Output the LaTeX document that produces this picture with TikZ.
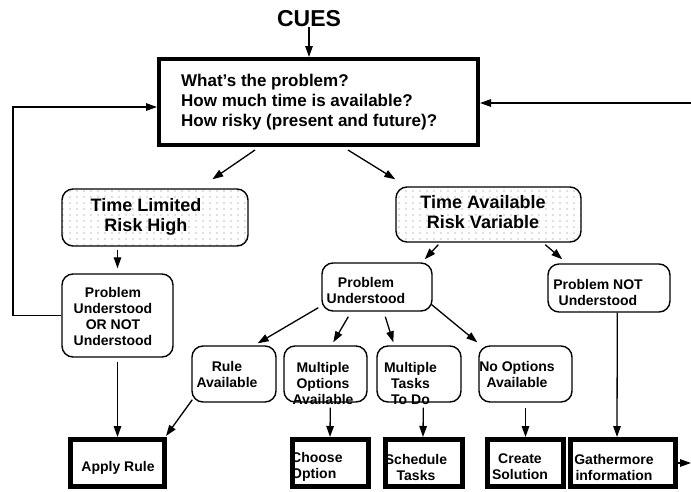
\documentclass[tikz,border=0pt]{standalone}
\usepackage{fontspec}
\setmainfont{Liberation Sans}
\usetikzlibrary{arrows.meta,calc,patterns.meta}

% sparse grey dot fill for the two situation boxes
\tikzdeclarepattern{
  name=sparsedots,
  type=uncolored,
  bottom left={(-1pt,-1pt)},
  top right={(6pt,5pt)},
  tile size={(7pt,6pt)},
  code={\fill (0pt,0pt) circle (0.6pt);}
}

\begin{document}
\begin{tikzpicture}[x=1pt,y=-1pt,
  txt/.style={font=\bfseries\fontsize{14}{16}\selectfont, inner sep=0pt, align=center},
  arr/.style={-{Triangle[length=11pt,width=7.5pt]}, line width=1.3pt},
  roundbox/.style={draw, line width=1.4pt, rounded corners=11pt, inner sep=0pt},
  dotbox/.style={roundbox, pattern=sparsedots, pattern color=black!55},
  heavybox/.style={draw, line width=5pt, inner sep=0pt},
]
\useasboundingbox (0,0) rectangle (691,491);

% heading and main question box
\node[txt, font=\bfseries\fontsize{23}{26}\selectfont] (cues) at (309,19) {CUES};
\node[heavybox, line width=4pt, minimum width=319pt, minimum height=86pt] (main) at (318.5,102) {};
\node[txt, anchor=west, align=left, font=\bfseries\fontsize{17}{20}\selectfont] (qtext) at (181,102)
  {What's the problem?\\How much time is available?\\How risky (present and future)?};

% situation boxes
\node[dotbox, minimum width=186pt, minimum height=57pt] (tl) at (155,217.5) {};
\node[txt, font=\bfseries\fontsize{18}{20}\selectfont] (tltext) at (146,217) {Time Limited\\Risk High};
\node[dotbox, minimum width=185pt, minimum height=55pt] (ta) at (488.5,214.5) {};
\node[txt, font=\bfseries\fontsize{18}{20}\selectfont] (tatext) at (483,212) {Time Available\\Risk Variable};

% understanding boxes
\node[roundbox, minimum width=111pt, minimum height=83pt] (puor) at (117.5,315.5) {};
\node[txt, font=\bfseries\fontsize{14}{15.7}\selectfont] (puortext) at (113,316.5) {Problem\\Understood\\OR NOT\\Understood};
\node[roundbox, minimum width=110pt, minimum height=48pt] (pu) at (377,287) {};
\node[txt] (putext) at (366,290) {Problem\\Understood};
\node[roundbox, minimum width=122pt, minimum height=48pt] (pnu) at (609,288) {};
\node[txt] (pnutext) at (598,292) {Problem NOT\\Understood};

% option boxes
\node[roundbox, minimum width=84pt, minimum height=56pt] (ra) at (234,374) {};
\node[txt] (ratext) at (227,374.5) {Rule\\Available};
\node[roundbox, minimum width=83pt, minimum height=56pt] (moa) at (325.5,374) {};
\node[txt] (moatext) at (323,383) {Multiple\\Options\\Available};
\node[roundbox, minimum width=84pt, minimum height=56pt] (mttd) at (419,374) {};
\node[txt] (mttdtext) at (410.5,383) {Multiple\\Tasks\\To Do};
\node[roundbox, minimum width=93pt, minimum height=56pt] (noa) at (525.5,374) {};
\node[txt] (noatext) at (517,374.5) {No Options\\Available};

% action boxes
\node[heavybox, minimum width=94pt, minimum height=47pt] (apply) at (117.5,463) {};
\node[txt] (applytext) at (118,468) {Apply Rule};
\node[heavybox, minimum width=76pt, minimum height=47pt] (choose) at (330.5,463) {};
\node[txt, anchor=west, align=left] (choosetext) at (291,467) {Choose\\Option};
\node[heavybox, minimum width=77pt, minimum height=47pt] (sched) at (424,463) {};
\node[txt] (schedtext) at (416,467) {Schedule\\Tasks};
\node[heavybox, minimum width=76pt, minimum height=47pt] (create) at (525.5,463) {};
\node[txt] (createtext) at (520,467) {Create\\Solution};
\node[heavybox, minimum width=105pt, minimum height=47pt] (gather) at (623,463) {};
\node[txt] (gathertext) at (614,467) {Gathermore\\information};

% free ends
\coordinate (rin) at (691,103);
\coordinate (lp) at (13,107);
\coordinate (out) at (691,463);

% connectors
\draw[arr] (cues.south) -- (cues.south |- main.north);
\draw[arr] (rin) -- (rin -| main.east);
\draw[arr] (puor.west) -| (lp) -- (lp -| main.west);

\draw[arr] ($(main.south west)+(98,3)$) -- ($(tl.north west)+(151,-9)$);
\draw[arr] ($(main.south west)+(191,3)$) -- ($(ta.north west)+(0,-7)$);

\draw[arr] ($(tl.south -| puor.north)+(0,3)$) -- ($(puor.north)+(0,-5)$);
\draw[arr] ($(ta.south west)+(43,2)$) -- ($(pu.north east)+(-8,-3)$);
\draw[arr] ($(ta.south west)+(150,2)$) -- ($(pnu.north west)+(15,-4)$);

\draw[arr] ($(pu.south west)+(-3,-4)$) -- ($(ra.north east)+(-19,-2)$);
\draw[arr] ($(pu.south west)+(27,5)$) -- ($(moa.north west)+(50,-3)$);
\draw[arr] ($(pu.south west)+(64,5)$) -- ($(mttd.north west)+(17,-3)$);
\draw[arr] ($(pu.south east)+(-1,-7)$) -- ($(noa.north west)+(-1,-3)$);

\draw[arr] ($(puor.south)+(0,4)$) -- (apply.north);
\draw[arr] ($(ra.south west)+(1,-3)$) -- ($(apply.north east)+(-1,-1)$);
\draw[arr] ($(moa.south west)+(47,5)$) -- ($(choose.north west)+(40,0)$);
\draw[arr] ($(mttd.south west)+(47,5)$) -- ($(sched.north west)+(40,0)$);
\draw[arr] ($(noa.south)+(0,5)$) -- (create.north);
\draw[arr] ($(pnu.south west)+(70,0)$) -- ($(gather.north west)+(49,0)$);
\draw[arr] (gather.east) -- (out);
\end{tikzpicture}
\end{document}
